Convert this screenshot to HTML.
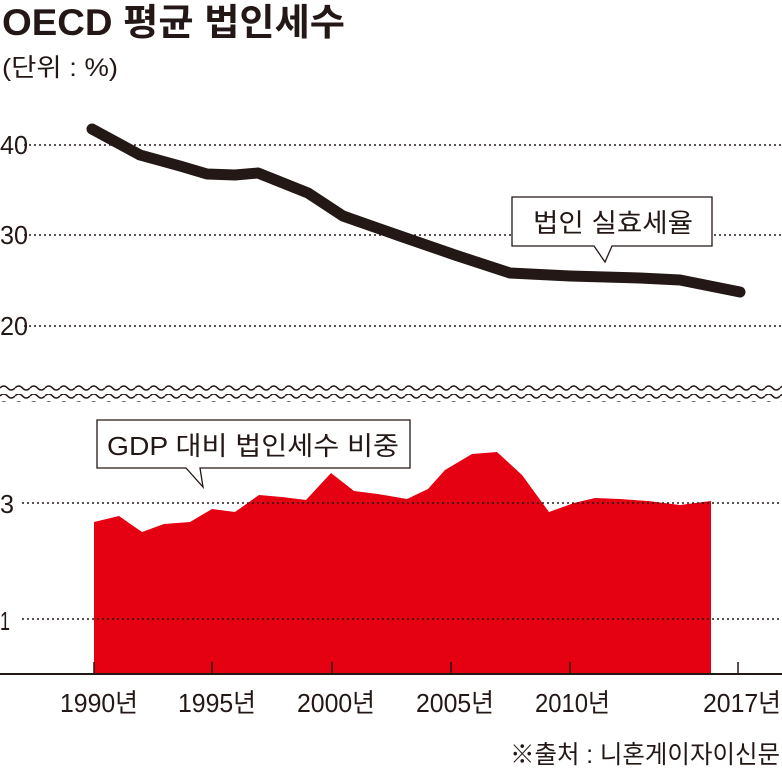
<!DOCTYPE html><html><head><meta charset="utf-8"><style>
body{margin:0;background:#fff;width:782px;height:773px;overflow:hidden;font-family:"Liberation Sans","Noto Sans CJK KR",sans-serif}
</style></head><body>
<svg width="782" height="773" xmlns="http://www.w3.org/2000/svg" font-family="Liberation Sans, Noto Sans CJK KR, sans-serif">
<defs><pattern id="w" width="15" height="8" patternUnits="userSpaceOnUse"><path d="M0,4 Q3.75,0 7.5,4 T15,4" fill="none" stroke="#231815" stroke-width="1.6"/></pattern></defs>
<text x="2" y="35" font-size="37" font-weight="bold" fill="#231815" textLength="343" lengthAdjust="spacingAndGlyphs">OECD 평균 법인세수</text>
<text x="2" y="76" font-size="25" fill="#231815" textLength="116" lengthAdjust="spacingAndGlyphs">(단위 : %)</text>
<polygon fill="#e50012" points="94,674 94,522 119,516 142,532 164,524 190,522 212,509 235,512 259,495 282,497 306,500 331,473 354,491 378,494 407,499 428,489 445,470 472,454 497,452 522,475 549,512 574,503 595,498 620,499 648,501 680,505 711,501 711,674"/>
<g stroke="#231815" stroke-width="1.5" stroke-dasharray="2,3">
<line x1="24" y1="145" x2="782" y2="145"/><line x1="24" y1="235" x2="782" y2="235"/><line x1="24" y1="326" x2="782" y2="326"/>
<line x1="22" y1="503" x2="782" y2="503"/><line x1="22" y1="619" x2="782" y2="619"/></g>
<g font-size="26" fill="#231815">
<text x="0" y="154" textLength="28" lengthAdjust="spacingAndGlyphs">40</text><text x="0" y="244" textLength="28" lengthAdjust="spacingAndGlyphs">30</text><text x="0" y="335" textLength="28" lengthAdjust="spacingAndGlyphs">20</text><text x="0" y="513" textLength="14" lengthAdjust="spacingAndGlyphs">3</text><text x="0" y="630" textLength="10" lengthAdjust="spacingAndGlyphs">1</text></g>
<rect x="0" y="383" width="782" height="8" fill="url(#w)"/><rect x="0" y="394" width="782" height="8" fill="url(#w)"/>
<line x1="0" y1="674" x2="782" y2="674" stroke="#231815" stroke-width="2"/>
<g stroke="#231815" stroke-width="1.5"><line x1="94" y1="662" x2="94" y2="674"/><line x1="212" y1="662" x2="212" y2="674"/><line x1="332" y1="662" x2="332" y2="674"/><line x1="451" y1="662" x2="451" y2="674"/><line x1="570" y1="662" x2="570" y2="674"/><line x1="738" y1="662" x2="738" y2="674"/></g>
<g font-size="26" fill="#231815">
<text x="60" y="712" textLength="78" lengthAdjust="spacingAndGlyphs">1990년</text><text x="178" y="712" textLength="78" lengthAdjust="spacingAndGlyphs">1995년</text><text x="297" y="712" textLength="78" lengthAdjust="spacingAndGlyphs">2000년</text><text x="416" y="712" textLength="78" lengthAdjust="spacingAndGlyphs">2005년</text><text x="535" y="712" textLength="75" lengthAdjust="spacingAndGlyphs">2010년</text><text x="703" y="712" textLength="78" lengthAdjust="spacingAndGlyphs">2017년</text></g>
<text x="510" y="763" font-size="25" fill="#231815" textLength="270" lengthAdjust="spacingAndGlyphs">※출처 : 니혼게이자이신문</text>
<polyline fill="none" stroke="#231815" stroke-width="11" stroke-linejoin="round" stroke-linecap="round" points="92,129 140,155 180,166 207,174 235,175 258,173 308,193 343,216 400,236 455,255 510,273 570,276 640,278 680,280 740,292"/>
<path d="M512,197 H712 V246 H612 L605,262 L594,246 H512 Z" fill="#fff" stroke="#231815" stroke-width="1.3"/>
<text x="533" y="232" font-size="26" fill="#231815" textLength="160" lengthAdjust="spacingAndGlyphs">법인 실효세율</text>
<path d="M97,420 H410 V468 H200 L203,487 L186,468 H97 Z" fill="#fff" stroke="#231815" stroke-width="1.3"/>
<text x="107" y="455" font-size="26" fill="#231815" textLength="292" lengthAdjust="spacingAndGlyphs">GDP 대비 법인세수 비중</text>
</svg></body></html>
